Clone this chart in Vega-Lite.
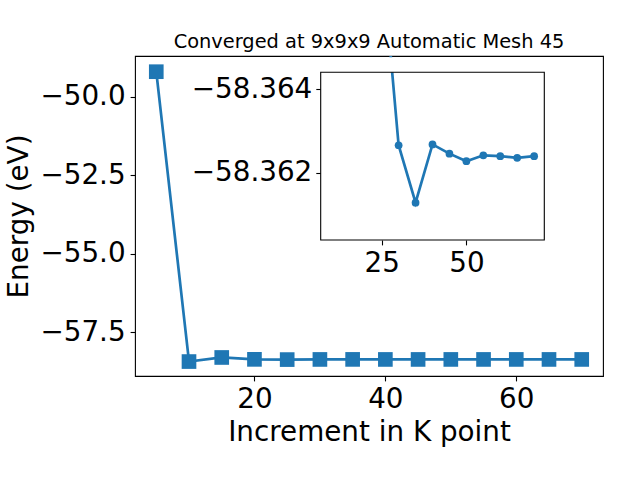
{
  "$schema": "https://vega.github.io/schema/vega-lite/v6.json",
  "width": 468,
  "height": 320,
  "autosize": {"type": "none"},
  "padding": {"left": 135, "top": 56, "right": 37, "bottom": 104},
  "background": "white",
  "config": {
    "font": "DejaVu Sans",
    "view": {"stroke": "black", "strokeWidth": 1.1},
    "axis": {
      "grid": false,
      "domain": false,
      "tickColor": "black",
      "tickWidth": 1.1,
      "tickSize": 4.9,
      "labelColor": "black",
      "titleColor": "black",
      "labelFont": "DejaVu Sans",
      "titleFont": "DejaVu Sans",
      "labelFontSize": 27.8,
      "titleFontSize": 27.8,
      "titleFontWeight": "normal",
      "labelFlush": false,
      "labelOverlap": false
    }
  },
  "title": {
    "text": "Converged at 9x9x9 Automatic Mesh 45",
    "font": "DejaVu Sans",
    "fontSize": 19.4,
    "fontWeight": "normal",
    "color": "black",
    "anchor": "middle",
    "frame": "group",
    "offset": 9.3,
    "dy": 21,
    "baseline": "alphabetic"
  },
  "datasets": {
    "energy": [
      {"k": 5, "E": -49.20},
      {"k": 10, "E": -58.43},
      {"k": 15, "E": -58.30},
      {"k": 20, "E": -58.36},
      {"k": 25, "E": -58.36723},
      {"k": 30, "E": -58.36266},
      {"k": 35, "E": -58.36129},
      {"k": 40, "E": -58.36268},
      {"k": 45, "E": -58.36246},
      {"k": 50, "E": -58.36228},
      {"k": 55, "E": -58.36242},
      {"k": 60, "E": -58.36240},
      {"k": 65, "E": -58.36236},
      {"k": 70, "E": -58.36240}
    ],
    "one": [{}]
  },
  "layer": [
    {
      "data": {"name": "energy"},
      "encoding": {
        "x": {
          "field": "k", "type": "quantitative",
          "scale": {"domain": [1.75, 73.25], "nice": false, "zero": false},
          "axis": {"values": [20, 40, 60], "title": "Increment in K point", "labelPadding": 4.5, "titlePadding": 5}
        },
        "y": {
          "field": "E", "type": "quantitative",
          "scale": {"domain": [-58.89, -48.70], "nice": false, "zero": false},
          "axis": {"values": [-57.5, -55, -52.5, -50], "format": ".1f", "title": "Energy (eV)", "labelPadding": 5, "titlePadding": 6}
        }
      },
      "layer": [
        {"mark": {"type": "line", "color": "#1f77b4", "strokeWidth": 2.7}},
        {"mark": {"type": "point", "shape": "square", "filled": true, "opacity": 1, "size": 215, "color": "#1f77b4"}}
      ]
    },
    {
      "layer": [
        {
          "data": {"name": "one"},
          "mark": {"type": "rect", "fill": "white", "strokeWidth": 0},
          "encoding": {
            "x": {"datum": 7, "type": "quantitative", "scale": {"domain": [7, 73], "range": [185.7, 409.3], "nice": false, "zero": false}, "axis": {"orient": "bottom", "offset": -136, "values": [25, 50], "title": null, "labelPadding": 4.5}},
            "x2": {"datum": 73},
            "y": {"datum": -58.3644, "type": "quantitative", "scale": {"domain": [-58.3644, -58.3604], "range": [16.3, 184], "nice": false, "zero": false}, "axis": {"orient": "left", "offset": -185.7, "values": [-58.364, -58.362], "format": ".3f", "title": null, "labelPadding": 4}},
            "y2": {"datum": -58.3604}
          }
        },
        {
          "data": {"name": "energy"},
          "transform": [{"filter": "datum.k >= 25"}],
          "encoding": {
            "x": {"field": "k", "type": "quantitative", "scale": {"domain": [7, 73], "range": [185.7, 409.3], "nice": false, "zero": false}, "axis": {"orient": "bottom", "offset": -136, "values": [25, 50], "title": null, "labelPadding": 4.5}},
            "y": {"field": "E", "type": "quantitative", "scale": {"domain": [-58.3644, -58.3604], "range": [16.3, 184], "nice": false, "zero": false}, "axis": {"orient": "left", "offset": -185.7, "values": [-58.364, -58.362], "format": ".3f", "title": null, "labelPadding": 4}}
          },
          "layer": [
            {"mark": {"type": "line", "color": "#1f77b4", "strokeWidth": 2.7, "clip": true}},
            {"mark": {"type": "point", "shape": "circle", "filled": true, "opacity": 1, "size": 60, "color": "#1f77b4", "clip": true}}
          ]
        },
        {
          "data": {"name": "one"},
          "mark": {"type": "rect", "fill": "white", "strokeWidth": 0, "clip": true},
          "encoding": {
            "x": {"datum": 7, "type": "quantitative", "scale": {"domain": [7, 73], "range": [185.7, 409.3], "nice": false, "zero": false}, "axis": {"orient": "bottom", "offset": -136, "values": [25, 50], "title": null, "labelPadding": 4.5}},
            "x2": {"datum": 73},
            "y": {"datum": -58.3644, "type": "quantitative", "scale": {"domain": [-58.3644, -58.3604], "range": [16.3, 184], "nice": false, "zero": false}, "axis": {"orient": "left", "offset": -185.7, "values": [-58.364, -58.362], "format": ".3f", "title": null, "labelPadding": 4}},
            "y2": {"datum": -58.36476}
          }
        },
        {
          "data": {"name": "one"},
          "mark": {"type": "rect", "fill": null, "fillOpacity": 0, "stroke": "black", "strokeWidth": 1.1},
          "encoding": {
            "x": {"datum": 7, "type": "quantitative", "scale": {"domain": [7, 73], "range": [185.7, 409.3], "nice": false, "zero": false}, "axis": {"orient": "bottom", "offset": -136, "values": [25, 50], "title": null, "labelPadding": 4.5}},
            "x2": {"datum": 73},
            "y": {"datum": -58.3644, "type": "quantitative", "scale": {"domain": [-58.3644, -58.3604], "range": [16.3, 184], "nice": false, "zero": false}, "axis": {"orient": "left", "offset": -185.7, "values": [-58.364, -58.362], "format": ".3f", "title": null, "labelPadding": 4}},
            "y2": {"datum": -58.3604}
          }
        }
      ]
    }
  ],
  "resolve": {
    "scale": {"x": "independent", "y": "independent"},
    "axis": {"x": "independent", "y": "independent"}
  }
}
